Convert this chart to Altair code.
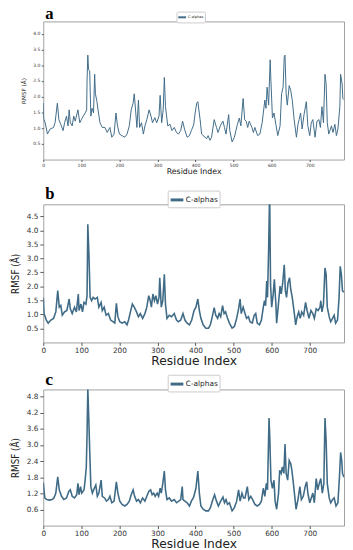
import altair as alt
import pandas as pd

# ---------------- data ----------------
res_a = [0, 1, 5, 11, 18, 27, 31, 37, 41, 46, 52, 56, 61, 65, 68, 71, 76, 80, 84, 89,
         91, 96, 100, 105, 110, 114, 115, 117, 119, 122, 125, 128, 132, 135, 137, 141, 145, 149, 155, 162,
         168, 175, 180, 186, 191, 195, 200, 207, 214, 220, 226, 231, 236, 239, 243, 246, 250, 253, 258, 263,
         267, 272, 278, 283, 287, 293, 298, 304, 307, 311, 315, 318, 321, 327, 333, 338, 344, 350, 355, 361,
         366, 371, 378, 384, 389, 395, 399, 403, 406, 412, 416, 425, 429, 433, 438, 442, 449, 455, 459, 465,
         472, 476, 480, 487, 490, 496, 502, 510, 515, 519, 525, 529, 533, 537, 541, 548, 552, 556, 563, 569,
         575, 582, 585, 588, 592, 596, 598, 602, 606, 611, 616, 622, 626, 630, 633, 635, 638, 641, 646, 650,
         654, 659, 665, 669, 672, 676, 680, 685, 691, 695, 700, 704, 708, 714, 719, 724, 728, 732, 736, 740,
         743, 746, 750, 757, 761, 766, 770, 774, 779, 781, 785, 787, 790]
rmsf_a = [1.80, 1.30, 1.17, 0.81, 0.97, 1.02, 1.17, 1.79, 1.27, 1.12, 0.92, 1.17, 1.38, 1.07, 1.58, 1.17, 1.07, 1.38, 1.22, 1.48,
          1.58, 1.17, 1.27, 1.38, 1.48, 1.58, 2.50, 3.32, 2.86, 2.81, 1.38, 1.63, 1.48, 2.71, 2.09, 1.84, 1.48, 1.17, 1.02, 1.02,
          0.86, 1.02, 0.71, 0.81, 1.48, 1.07, 0.81, 0.76, 0.71, 0.81, 1.07, 1.58, 1.79, 2.09, 1.48, 1.02, 1.89, 1.02, 1.17, 0.81,
          1.07, 1.27, 1.58, 1.38, 1.17, 1.33, 1.17, 1.38, 2.04, 1.17, 1.58, 2.61, 1.68, 1.07, 1.12, 0.92, 1.02, 0.86, 0.81, 0.92,
          1.22, 0.97, 0.71, 0.76, 0.92, 1.10, 1.48, 1.79, 1.84, 1.27, 0.81, 0.71, 0.66, 0.76, 0.61, 0.71, 1.27, 1.02, 0.86, 1.07,
          1.22, 1.02, 0.81, 1.43, 0.92, 0.56, 0.71, 1.12, 1.32, 1.07, 1.94, 1.27, 1.22, 1.02, 1.22, 1.02, 0.86, 1.02, 0.76, 0.81,
          1.17, 1.89, 1.63, 2.30, 1.73, 3.17, 2.50, 1.32, 1.48, 1.12, 0.76, 1.07, 2.09, 2.30, 3.27, 3.32, 2.09, 1.73, 2.35, 2.20,
          1.89, 1.27, 0.71, 1.12, 1.27, 1.48, 0.97, 1.43, 1.84, 1.07, 0.76, 1.17, 1.27, 0.71, 1.22, 1.27, 1.02, 1.68, 1.17, 2.71,
          2.40, 1.17, 0.81, 1.07, 0.86, 1.12, 0.76, 0.97, 1.68, 2.71, 2.40, 1.94, 1.90]

res_b = [0, 2, 8, 13, 20, 27, 33, 38, 42, 46, 50, 56, 62, 68, 71, 76, 82, 87, 92, 94,
         99, 103, 107, 112, 115, 117, 120, 123, 127, 131, 136, 142, 146, 152, 155, 160, 165, 171, 177, 183,
         188, 192, 196, 201, 207, 214, 220, 224, 229, 234, 239, 245, 250, 255, 261, 267, 272, 277, 281, 284,
         288, 292, 296, 300, 304, 306, 310, 314, 318, 321, 325, 331, 337, 344, 350, 355, 361, 367, 372, 378,
         384, 390, 396, 401, 406, 410, 414, 420, 427, 434, 439, 444, 449, 453, 458, 462, 466, 471, 475, 479,
         484, 489, 496, 502, 508, 513, 517, 520, 525, 530, 534, 539, 543, 549, 554, 558, 562, 568, 573, 578,
         581, 584, 587, 589, 592, 594, 595, 597, 600, 604, 607, 611, 613, 617, 622, 625, 629, 633, 636, 639,
         643, 647, 650, 654, 659, 663, 667, 671, 675, 679, 684, 689, 693, 698, 703, 708, 712, 717, 722, 727,
         729, 732, 736, 740, 743, 746, 751, 755, 760, 764, 768, 773, 777, 780, 783, 786, 790]
rmsf_b = [1.60, 1.03, 0.80, 0.69, 0.80, 0.86, 1.09, 1.85, 1.26, 1.32, 0.97, 1.09, 1.14, 1.55, 1.20, 1.03, 1.26, 1.09, 1.73, 1.14,
          1.37, 1.09, 1.43, 1.37, 1.67, 4.22, 3.12, 1.61, 1.49, 1.61, 1.55, 1.61, 1.26, 1.43, 1.14, 1.26, 0.97, 1.03, 0.80, 0.74,
          0.69, 1.40, 0.92, 0.74, 0.69, 0.74, 0.63, 0.80, 1.09, 1.37, 1.26, 1.09, 0.92, 1.03, 0.86, 1.03, 1.26, 1.67, 1.49, 1.26,
          1.73, 1.49, 1.67, 1.37, 1.61, 2.31, 1.26, 1.49, 2.43, 1.37, 0.86, 0.97, 0.92, 1.03, 0.80, 0.74, 0.80, 1.03, 0.80, 0.69,
          0.63, 0.80, 1.14, 1.26, 1.55, 1.14, 0.86, 0.63, 0.51, 0.51, 0.63, 0.92, 1.24, 0.97, 0.86, 1.03, 0.92, 1.31, 1.03, 1.09,
          0.86, 0.69, 0.51, 0.57, 0.86, 1.20, 1.55, 1.03, 1.26, 1.03, 0.86, 0.92, 0.74, 0.69, 0.97, 1.03, 0.69, 0.63, 0.80, 1.26,
          1.49, 1.31, 2.19, 1.61, 3.35, 4.95, 4.90, 2.07, 1.26, 1.73, 2.25, 1.37, 0.69, 1.26, 2.01, 1.73, 2.13, 2.77, 1.84, 1.61,
          2.13, 2.31, 1.90, 1.61, 1.09, 0.63, 0.92, 1.09, 0.86, 1.09, 0.97, 1.43, 1.14, 0.86, 1.14, 1.03, 0.86, 1.20, 1.14, 1.26,
          1.49, 1.09, 1.37, 2.66, 2.43, 1.26, 0.92, 0.74, 0.86, 0.97, 0.69, 0.80, 1.61, 2.72, 2.43, 1.84, 1.80]

res_c = [0, 4, 9, 16, 23, 28, 33, 38, 42, 48, 54, 61, 67, 71, 76, 82, 88, 91, 94, 98,
         101, 107, 110, 113, 115, 117, 119, 122, 125, 129, 134, 138, 142, 146, 152, 155, 161, 166, 171, 175,
         180, 186, 192, 196, 201, 207, 214, 220, 226, 231, 236, 240, 245, 250, 255, 261, 267, 272, 277, 282,
         286, 290, 294, 299, 303, 307, 310, 314, 318, 321, 325, 331, 337, 344, 350, 356, 361, 365, 367, 372,
         378, 384, 389, 395, 401, 406, 410, 414, 420, 427, 434, 439, 444, 450, 455, 460, 466, 472, 476, 480,
         484, 489, 496, 502, 508, 513, 517, 522, 526, 530, 536, 540, 545, 550, 556, 562, 568, 573, 578, 582,
         586, 589, 593, 595, 598, 602, 606, 609, 613, 618, 621, 625, 628, 632, 635, 638, 642, 646, 650, 653,
         657, 661, 664, 669, 674, 678, 683, 688, 692, 695, 700, 704, 708, 712, 717, 721, 725, 729, 733, 737,
         740, 743, 746, 751, 755, 760, 764, 769, 774, 778, 781, 784, 786, 790]
rmsf_c = [1.60, 1.03, 0.97, 0.95, 0.97, 1.03, 1.21, 1.81, 1.33, 1.09, 0.97, 1.03, 1.27, 1.33, 1.09, 1.03, 1.15, 1.57, 1.15, 1.45,
          1.21, 1.33, 1.69, 2.17, 3.39, 5.10, 4.24, 2.78, 1.45, 1.21, 1.39, 1.51, 1.09, 1.21, 1.69, 1.09, 1.03, 0.91, 0.97, 1.09,
          0.85, 0.91, 1.63, 1.21, 0.91, 0.79, 0.73, 0.79, 0.91, 1.15, 1.33, 1.09, 0.91, 0.97, 0.85, 1.03, 0.91, 1.09, 1.27, 1.33,
          1.15, 1.21, 1.09, 1.21, 1.09, 1.39, 1.21, 1.57, 2.03, 1.33, 0.97, 1.03, 0.91, 0.97, 0.85, 0.91, 0.97, 1.45, 0.97, 0.91,
          0.85, 0.73, 0.91, 1.06, 1.39, 2.03, 1.21, 0.73, 0.61, 0.55, 0.55, 0.67, 0.91, 1.15, 0.91, 0.73, 0.91, 1.06, 0.85, 0.97,
          0.79, 0.85, 0.55, 0.67, 0.91, 1.33, 0.91, 1.21, 1.03, 1.03, 1.45, 0.97, 1.09, 0.97, 0.79, 0.73, 0.79, 0.91, 1.39, 1.09,
          1.57, 1.33, 4.00, 3.27, 1.69, 1.39, 1.69, 0.91, 0.61, 1.21, 2.06, 1.94, 2.18, 1.94, 3.03, 1.94, 1.69, 2.42, 2.30, 2.06,
          1.57, 1.03, 0.61, 0.97, 1.45, 0.97, 1.09, 1.45, 1.63, 1.21, 0.85, 1.03, 1.21, 0.85, 1.75, 1.33, 1.57, 1.75, 1.21, 1.57,
          4.00, 3.15, 1.57, 1.03, 0.85, 0.97, 1.03, 0.73, 0.85, 1.81, 2.72, 2.42, 1.94, 1.80]

x_ticks = [0, 100, 200, 300, 400, 500, 600, 700]
y_ticks_a = [0.5, 1.0, 1.5, 2.0, 2.5, 3.0, 3.5, 4.0]
y_ticks_b = [0.5, 1.0, 1.5, 2.0, 2.5, 3.0, 3.5, 4.0, 4.5]
y_ticks_c = [0.6, 1.2, 1.8, 2.4, 3.0, 3.6, 4.2, 4.8]
series_name = "C-alphas"
x_max = 790
y_max = {"a": 4.39, "b": 4.93, "c": 5.06}

LINE = "#3f6b87"
FRAME = "#a0a0a0"


def panel(letter, res, vals, ymax, yticks, s):
    df = pd.DataFrame({"Residue": res, "RMSF": vals, "series": series_name})
    line = alt.Chart(df).mark_line(clip=True, strokeWidth=s["lw"]).encode(
        x=alt.X("Residue:Q",
                scale=alt.Scale(domain=[0, x_max], nice=False, zero=False),
                axis=alt.Axis(values=x_ticks, title="Residue Index", grid=False, domain=False,
                              tickColor="#555", tickSize=s["xtick"], labelPadding=s["xlpad"],
                              labelFont="DejaVu Sans", labelFontSize=s["xlab"], labelColor="#333",
                              labelFlush=False, titleFont="DejaVu Sans", titleFontSize=s["xtitle"],
                              titleFontWeight="normal", titleColor="#222", titlePadding=s["xtpad"])),
        y=alt.Y("RMSF:Q",
                scale=alt.Scale(domain=[0, ymax], nice=False, zero=False),
                axis=alt.Axis(values=yticks, format=".1f", title="RMSF (Å)", grid=False, domain=False,
                              tickColor="#555", tickSize=s["ytick"], labelPadding=s["ylpad"],
                              labelFont="DejaVu Sans", labelFontSize=s["ylab"], labelColor="#333",
                              titleFont=s["ytfont"], titleFontSize=s["ytitle"], titleFontWeight="normal",
                              titleColor="#222", titlePadding=s["ytpad"])),
        color=alt.Color("series:N", scale=alt.Scale(range=[LINE]),
                        legend=alt.Legend(title=None, orient="none", legendX=s["legx"], legendY=s["legy"],
                                          direction="horizontal", symbolType="stroke",
                                          symbolSize=s["symsize"], symbolStrokeWidth=s["symw"],
                                          labelFont="DejaVu Sans", labelFontSize=s["legfs"],
                                          labelColor="#222", labelOffset=1, padding=s["legpad"],
                                          strokeColor="#cccccc", fillColor="#ffffff", cornerRadius=1)),
    )
    lab = alt.Chart(pd.DataFrame({"panel": [letter]})).mark_text(
        font="Liberation Serif", fontWeight="bold", fontSize=s["letfs"],
        align="left", baseline="alphabetic", color="#000").encode(
        text="panel:N", x=alt.value(2), y=alt.value(s["lety"]))
    return alt.layer(line, lab).properties(width=307, height=s["h"])


sa = dict(lw=1.0, xtick=2, xlpad=1, xlab=4.6, xtitle=8, xtpad=1,
          ytick=2, ylpad=1.5, ylab=4.6, ytfont="DejaVu Sans", ytitle=5.8, ytpad=6,
          legx=136, legy=-10, symsize=64, symw=2, legfs=3.6, legpad=0.8,
          letfs=17, lety=-2, h=141)
sb = dict(lw=1.6, xtick=3, xlpad=1, xlab=7.5, xtitle=12.5, xtpad=1,
          ytick=3.5, ylpad=2, ylab=7.5, ytfont="Liberation Sans Narrow, DejaVu Sans Condensed, Liberation Sans",
          ytitle=10, ytpad=6,
          legx=127, legy=-14, symsize=169, symw=3, legfs=7.5, legpad=1.5,
          letfs=17, lety=-5.7, h=141)
sc = dict(sb, letfs=18, lety=-5, legy=-15, h=139)

pa = panel("a", res_a, rmsf_a, y_max["a"], y_ticks_a, sa)
pb = panel("b", res_b, rmsf_b, y_max["b"], y_ticks_b, sb)
pc = panel("c", res_c, rmsf_c, y_max["c"], y_ticks_c, sc)

lower = alt.vconcat(pb, pc, spacing=2).resolve_scale(
    color="independent", x="independent", y="independent").resolve_legend(color="independent")

chart = alt.vconcat(pa, lower, spacing=6.7).resolve_scale(
    color="independent", x="independent", y="independent").resolve_legend(
    color="independent"
).properties(
    padding={"left": 2, "top": -9, "right": 0, "bottom": 0},
    background="white",
).configure_view(stroke=FRAME, strokeWidth=1)

chart.save("out.html", embed_options={"renderer": "svg", "actions": False})
